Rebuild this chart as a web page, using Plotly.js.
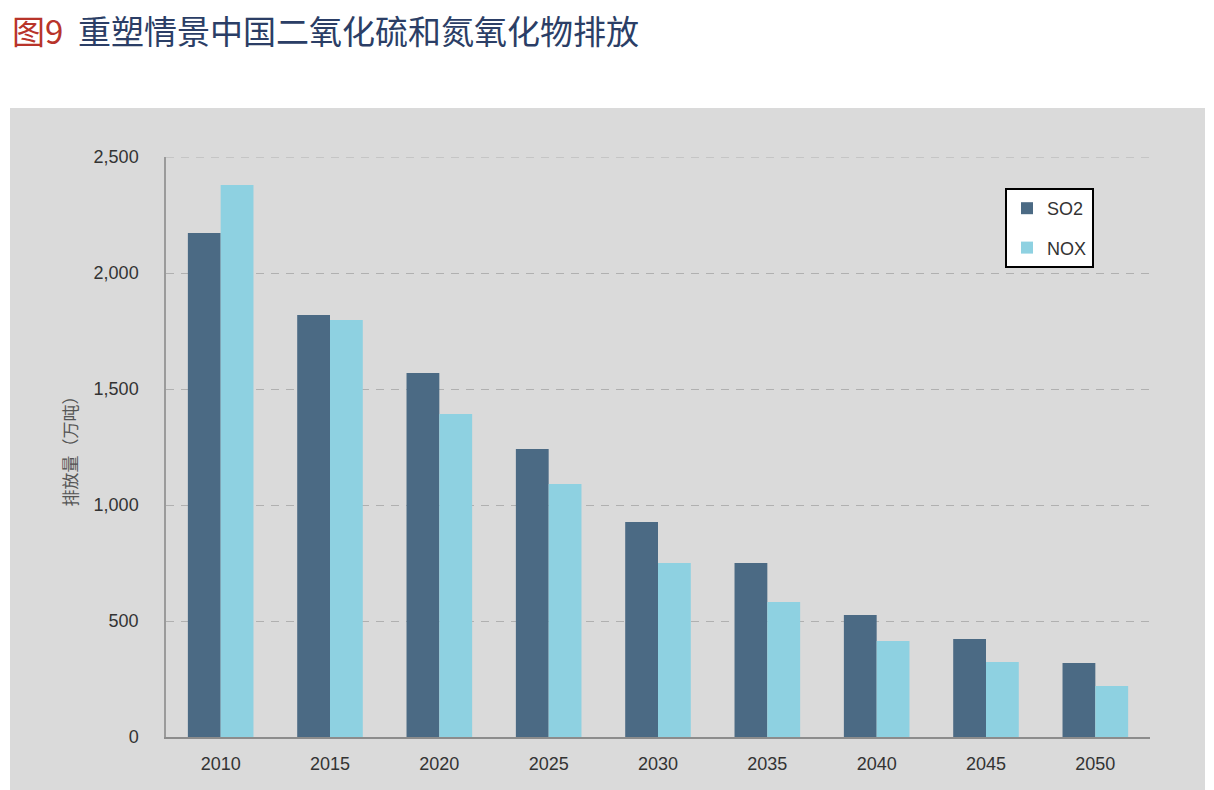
<!DOCTYPE html>
<html>
<head>
<meta charset="utf-8">
<script src="https://cdn.plot.ly/plotly-3.0.1.min.js"></script>
<style>
html,body{margin:0;padding:0;background:#fff;}
#chart{width:1214px;height:790px;}
</style>
</head>
<body>
<div id="chart"></div>
<script>
const years = ['2010','2015','2020','2025','2030','2035','2040','2045','2050'];
const so2 = [2172, 1819, 1569, 1241, 927, 750, 526, 422, 319];
const nox = [2379, 1797, 1392, 1090, 750, 582, 414, 323, 220];
const yTicks = [0, 500, 1000, 1500, 2000, 2500];
const yTickText = ['0', '500', '1,000', '1,500', '2,000', '2,500'];
const yMax = 2500;

const tickFont = {family: 'Liberation Sans, Arial, sans-serif', size: 18, color: '#333'};

const traces = [
  {type: 'bar', name: 'SO2', x: years, y: so2, marker: {color: '#4b6a84'}, legendgroup: 'a'},
  {type: 'bar', name: 'NOX', x: years, y: nox, marker: {color: '#8ed1e1'}, legendgroup: 'b'}
];

const layout = {
  width: 1214, height: 790,
  paper_bgcolor: '#ffffff',
  plot_bgcolor: 'rgba(0,0,0,0)',
  margin: {l: 166, r: 64, t: 157, b: 53},
  barmode: 'group',
  bargap: 0.40,
  bargroupgap: 0,
  showlegend: true,
  legend: {
    xref: 'paper', yref: 'paper',
    font: {family: 'Liberation Sans, Arial, sans-serif', size: 18, color: '#333'},
    bgcolor: '#ffffff', bordercolor: '#000', borderwidth: 2,
    traceorder: 'grouped', tracegroupgap: 13, itemsizing: 'constant',
    itemwidth: 30
  },
  xaxis: {
    type: 'category', range: [-0.5, 8.5],
    showline: true, linecolor: '#8c8c8c', linewidth: 2,
    ticks: '', tickfont: tickFont, showgrid: false, zeroline: false,
    ticklabelstandoff: 9
  },
  yaxis: {
    range: [0, yMax], tickvals: yTicks, ticktext: yTickText,
    showline: true, linecolor: '#9a9a9a', linewidth: 1.5,
    ticks: '', tickfont: tickFont, ticklabelstandoff: 22,
    showgrid: true, gridcolor: '#b0b0b0', griddash: '8px,7px', gridwidth: 1.2,
    zeroline: false,
    title: {text: '排放量（万吨）', font: {family: 'Noto Sans CJK SC', size: 17, color: '#555'}, standoff: 12}
  },
  title: {
    text: '<span style="color:#b8342a">图9</span>  重塑情景中国二氧化硫和氮氧化物排放',
    font: {family: 'Noto Sans CJK SC', size: 33, color: '#2b3e66'},
    x: 12 / 1214, xanchor: 'left', xref: 'container', y: 0.959, yanchor: 'middle', yref: 'container'
  },
  shapes: [
    {type: 'rect', xref: 'paper', yref: 'paper', layer: 'below',
     x0: -156/984, x1: 1 + 55/984, y0: -53/580, y1: 1 + 49/580,
     fillcolor: '#dadada', line: {width: 0}},
    {type: 'line', xref: 'paper', yref: 'y', layer: 'below',
     x0: 0, x1: 1, y0: yMax, y1: yMax,
     line: {color: '#b0b0b0', width: 1.2, dash: '8px,7px'}}
  ]
};
layout.legend.x = (1005 - 166) / 984;
layout.legend.y = 1 - (188 - 157) / 580;
layout.legend.xanchor = 'left';
layout.legend.yanchor = 'top';

Plotly.newPlot('chart', traces, layout, {displayModeBar: false});
</script>
</body>
</html>
